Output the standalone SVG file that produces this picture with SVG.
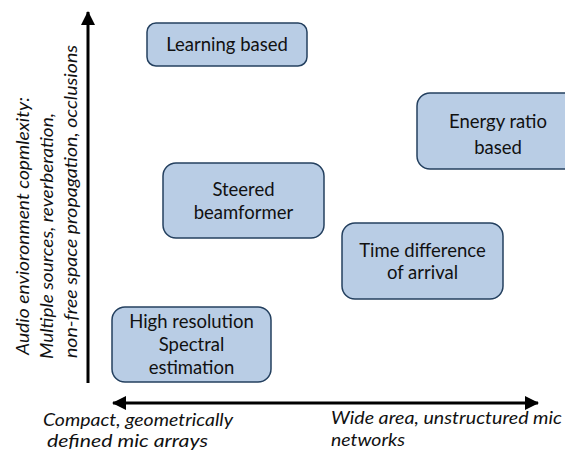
<svg xmlns="http://www.w3.org/2000/svg" width="565" height="454" viewBox="0 0 565 454">
<style>
.box{fill:#B9CDE5;stroke:#24405F;stroke-width:1.5}
.lbl{font-family:Lato,"Open Sans","Liberation Sans",sans-serif;font-size:18.5px;fill:#111;text-anchor:middle}
.ax{font-family:Lato,"Open Sans","Liberation Sans",sans-serif;font-size:17.5px;font-style:italic;fill:#111}
.axis{stroke:#000;stroke-width:3;fill:none}
</style>
<defs>
<marker id="ah" viewBox="0 0 14 14" refX="13" refY="7" markerWidth="14" markerHeight="14" markerUnits="userSpaceOnUse" orient="auto-start-reverse">
<path d="M0,0 L14,7 L0,14 Z" fill="#000"/>
</marker>
</defs>
<g id="connectors">
<line class="axis" x1="88" y1="383" x2="88" y2="12" marker-end="url(#ah)"/>
<line class="axis" x1="113" y1="403" x2="538" y2="403" marker-start="url(#ah)" marker-end="url(#ah)"/>
</g>
<g id="learning">
<rect class="box" x="147" y="23" width="160" height="43" rx="9"/>
<text class="lbl" x="227" y="51">Learning based</text>
</g>
<g id="energy">
<rect class="box" x="417" y="93" width="162" height="76" rx="13"/>
<text class="lbl" x="498" y="128">Energy ratio</text>
<text class="lbl" x="498" y="154">based</text>
</g>
<g id="steered">
<rect class="box" x="163" y="163" width="161" height="75" rx="13"/>
<text class="lbl" x="243.5" y="196">Steered</text>
<text class="lbl" x="243.5" y="219">beamformer</text>
</g>
<g id="tdoa">
<rect class="box" x="342" y="223" width="161" height="76" rx="13"/>
<text class="lbl" x="422.5" y="257">Time difference</text>
<text class="lbl" x="422.5" y="279">of arrival</text>
</g>
<g id="highres">
<rect class="box" x="112" y="307" width="159" height="75" rx="13"/>
<text class="lbl" x="191.5" y="328">High resolution</text>
<text class="lbl" x="191.5" y="351">Spectral</text>
<text class="lbl" x="191.5" y="374">estimation</text>
</g>
<g id="yaxis-label" class="ax">
<text transform="translate(29,355) rotate(-90)" textLength="258" lengthAdjust="spacingAndGlyphs">Audio envioronment copmlexity:</text>
<text transform="translate(53,359) rotate(-90)" textLength="246" lengthAdjust="spacingAndGlyphs">Multiple sources, reverberation,</text>
<text transform="translate(77,358) rotate(-90)" textLength="313" lengthAdjust="spacingAndGlyphs">non-free space propagation, occlusions</text>
</g>
<g id="xaxis-label" class="ax">
<text x="43" y="426" textLength="190" lengthAdjust="spacingAndGlyphs">Compact, geometrically</text>
<text x="47" y="447" textLength="161" lengthAdjust="spacingAndGlyphs">defined mic arrays</text>
<text x="331" y="424" textLength="231" lengthAdjust="spacingAndGlyphs">Wide area, unstructured mic</text>
<text x="331" y="446" textLength="74" lengthAdjust="spacingAndGlyphs">networks</text>
</g>
</svg>
